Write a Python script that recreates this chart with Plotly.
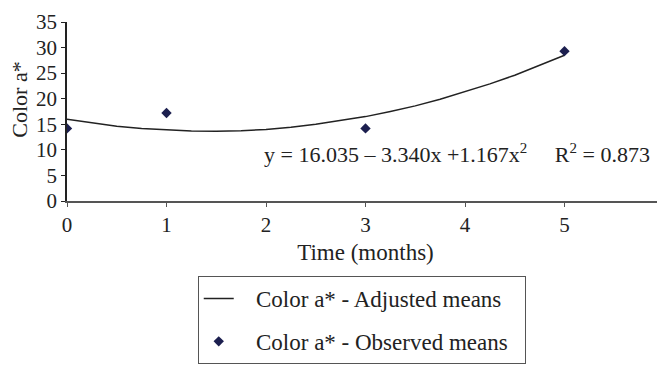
import plotly.graph_objects as go

# Observed means
obs_time = [0, 1, 3, 5]
obs_color = [14.2, 17.2, 14.2, 29.3]

# Adjusted means (fitted curve)
fit_time = [0, 0.25, 0.5, 0.75, 1.0, 1.25, 1.5, 1.75, 2.0, 2.25, 2.5, 2.75,
            3.0, 3.25, 3.5, 3.75, 4.0, 4.25, 4.5, 4.75, 5.0]
fit_color = [16.0, 15.3, 14.6, 14.2, 13.9, 13.7, 13.65, 13.75, 14.0, 14.4, 15.0,
             15.7, 16.5, 17.5, 18.6, 19.9, 21.35, 22.9, 24.6, 26.5, 28.5]

x_ticks = [0, 1, 2, 3, 4, 5, 6]
y_ticks = [0, 5, 10, 15, 20, 25, 30, 35]

FONT = "Liberation Serif"
LEAD = "\u2002\u2005"
TRAIL = "\u2002"
SUP2 = "<sup><span style='font-size:15px'>2</span></sup>"

fig = go.Figure()
fig.add_trace(go.Scatter(
    x=fit_time, y=fit_color, mode="lines",
    line=dict(color="#222222", width=1.5),
    name=LEAD + "Color a* - Adjusted means" + TRAIL, legendgroup="a",
))
fig.add_trace(go.Scatter(
    x=obs_time, y=obs_color, mode="markers",
    marker=dict(symbol="diamond", size=8, color="#1c1f4f"),
    name=LEAD + "Color a* - Observed means" + TRAIL, legendgroup="b",
))

fig.add_annotation(
    x=0.98, y=9.3, xref="paper", yref="y", showarrow=False,
    text="y = 16.035 – 3.340x +1.167x" + SUP2 + "     R" + SUP2 + " = 0.873",
    font=dict(family=FONT, size=22, color="#222222"),
    xanchor="right", yanchor="middle",
)
fig.add_annotation(
    x=-0.081, y=0.564, xref="paper", yref="paper", showarrow=False,
    text="Color a*", textangle=-90,
    font=dict(family=FONT, size=22, color="#222222"),
    xanchor="center", yanchor="middle",
)

fig.update_layout(
    width=657, height=359,
    margin=dict(l=59, r=1, t=14, b=166),
    paper_bgcolor="white", plot_bgcolor="white",
    font=dict(family=FONT, size=21, color="#222222"),
    showlegend=True,
    legend=dict(
        x=0.219, y=-0.419, xanchor="left", yanchor="top",
        bordercolor="#555555", borderwidth=1,
        font=dict(family=FONT, size=23, color="#222222"),
        traceorder="grouped", tracegroupgap=10,
        itemwidth=30,
    ),
    xaxis=dict(
        range=[0, 6], tickvals=x_ticks, ticks="outside", ticklen=4,
        tickcolor="#555555", showline=True, linecolor="#555555", linewidth=1.5,
        showgrid=False, zeroline=False, automargin=False,
        ticklabeloverflow="allow",
        title=dict(text="Time (months)", font=dict(size=23), standoff=8),
        tickfont=dict(size=21),
    ),
    yaxis=dict(
        range=[0, 35], tickvals=y_ticks, ticks="outside", ticklen=4,
        tickcolor="#222222", showline=True, linecolor="#222222", linewidth=1.5,
        showgrid=False, zeroline=False, automargin=False,
        tickfont=dict(size=21),
    ),
)

fig.write_html("out.html")
